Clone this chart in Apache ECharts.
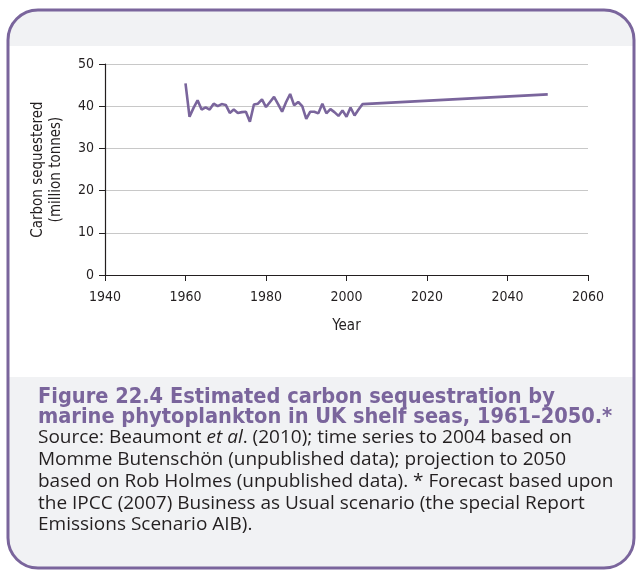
<!DOCTYPE html>
<html>
<head>
<meta charset="utf-8">
<script src="https://cdn.jsdelivr.net/npm/echarts@6/dist/echarts.min.js"></script>
<style>
  html, body { margin: 0; padding: 0; background: #ffffff; }
  #chart { width: 640px; height: 571px; }
</style>
</head>
<body>
<div id="chart"></div>
<script>
// time series to 2004, then projection to 2050
const histYears = [1960, 1961, 1962, 1963, 1964, 1965, 1966, 1967, 1968, 1969,
  1970, 1971, 1972, 1973, 1974, 1975, 1976, 1977, 1978, 1979,
  1980, 1981, 1982, 1983, 1984, 1985, 1986, 1987, 1988, 1989,
  1990, 1991, 1992, 1993, 1994, 1995, 1996, 1997, 1998, 1999,
  2000, 2001, 2002, 2003, 2004];
const histValues = [45.4, 37.5, 39.6, 41.4, 39.2, 39.7, 39.2, 40.6, 40.0, 40.5,
  40.3, 38.4, 39.2, 38.4, 38.6, 38.7, 36.3, 40.4, 40.6, 41.6,
  39.8, 41.0, 42.2, 40.5, 38.7, 41.0, 42.9, 40.2, 41.0, 40.0,
  37.0, 38.7, 38.7, 38.3, 40.6, 38.3, 39.3, 38.6, 37.7, 39.0,
  37.5, 39.7, 37.8, 39.2, 40.5];
const projYears = [2050];
const projValues = [42.8];

const xTicks = [1940, 2060, 20]; // min, max, interval
const yTicks = [0, 50, 10];

const titleLines = [
  'Figure 22.4 Estimated carbon sequestration by',
  'marine phytoplankton in UK shelf seas, 1961–2050.*'
];
const sourceLines = [
  'Source: Beaumont {i|et al}. (2010); time series to 2004 based on',
  'Momme Butenschön (unpublished data); projection to 2050',
  'based on Rob Holmes (unpublished data). * Forecast based upon',
  'the IPCC (2007) Business as Usual scenario (the special Report',
  'Emissions Scenario AIB).'
];

const purple = '#7a659c';
const narrow = '"Liberation Sans Narrow", "DejaVu Sans Condensed", sans-serif';

const seriesData = histYears.map((y, i) => [y, histValues[i]])
  .concat(projYears.map((y, i) => [y, projValues[i]]));

// 背景框 + 说明文字
const graphics = [
  { type: 'rect', z: -10, shape: { x: 8, y: 10, width: 626, height: 558, r: 30 },
    style: { fill: '#ffffff' } },
  { type: 'rect', z: -9, shape: { x: 8, y: 10, width: 626, height: 36, r: [30, 30, 0, 0] },
    style: { fill: '#f1f2f4' } },
  { type: 'rect', z: -9, shape: { x: 8, y: 377, width: 626, height: 191, r: [0, 0, 30, 30] },
    style: { fill: '#f1f2f4' } },
  { type: 'rect', z: 10, shape: { x: 8, y: 10, width: 626, height: 558, r: 30 },
    style: { fill: 'none', stroke: purple, lineWidth: 3 } }
];
titleLines.forEach((t, i) => {
  graphics.push({
    type: 'text', z: 10, x: 38, y: 397 + i * 20,
    style: { text: t, fill: purple, font: 'bold 21.6px ' + narrow, verticalAlign: 'middle' }
  });
});
sourceLines.forEach((t, i) => {
  graphics.push({
    type: 'text', z: 10, x: 38, y: 438 + i * 21.7,
    style: {
      text: t, fill: '#231f20', font: '19px "Open Sans", sans-serif', verticalAlign: 'middle',
      rich: { i: { fontStyle: 'italic', fontSize: 19, fontFamily: '"Open Sans", sans-serif', fill: '#231f20' } }
    }
  });
});

const chart = echarts.init(document.getElementById('chart'));
chart.setOption({
  animation: false,
  grid: { left: 105, right: 52, top: 64, bottom: 296 },
  xAxis: {
    type: 'value', min: xTicks[0], max: xTicks[1], interval: xTicks[2],
    name: 'Year', nameLocation: 'middle', nameGap: 44,
    nameTextStyle: { fontFamily: narrow, fontSize: 15, color: '#231f20' },
    axisLine: { show: true, lineStyle: { color: '#231f20', width: 1.2 } },
    axisTick: { show: true, length: 6, lineStyle: { color: '#231f20' } },
    axisLabel: { fontFamily: narrow, fontSize: 14, color: '#231f20', margin: 15,
      formatter: v => String(v) },
    splitLine: { show: false }
  },
  yAxis: {
    type: 'value', min: yTicks[0], max: yTicks[1], interval: yTicks[2],
    name: 'Carbon sequestered\n(million tonnes)', nameLocation: 'middle', nameGap: 40,
    nameTextStyle: { fontFamily: narrow, fontSize: 15, color: '#231f20', lineHeight: 18 },
    axisLine: { show: true, lineStyle: { color: '#231f20', width: 1.2 } },
    axisTick: { show: true, length: 6, lineStyle: { color: '#231f20' } },
    axisLabel: { fontFamily: narrow, fontSize: 14, color: '#231f20', margin: 11 },
    splitLine: { show: true, lineStyle: { color: '#c8c8c8', width: 1.2 } }
  },
  series: [{
    type: 'line', data: seriesData, showSymbol: false,
    lineStyle: { color: purple, width: 2.6 }, z: 5
  }],
  graphic: graphics
});
</script>
</body>
</html>
